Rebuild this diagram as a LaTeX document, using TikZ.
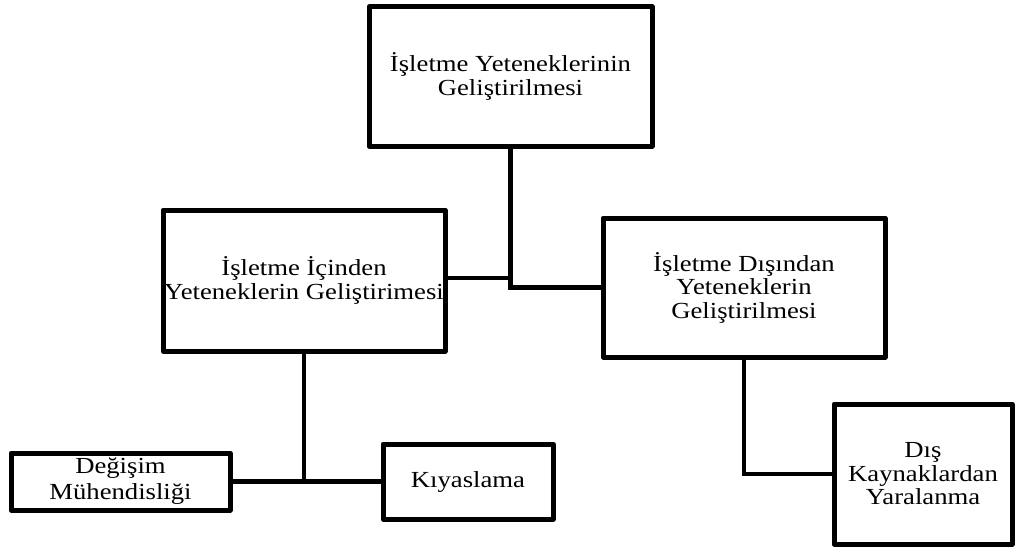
\documentclass[tikz,border=0pt]{standalone}
\usepackage{fontspec}
\setmainfont{Liberation Serif}[FakeStretch=1.16]
\begin{document}
\begin{tikzpicture}[x=1pt,y=-1pt,
  box/.style={draw, line width=5pt, line join=round, align=center, inner sep=0pt,
    font=\fontsize{23}{23.5}\selectfont},
  link/.style={line width=4.5pt}]
\useasboundingbox (0,0) rectangle (1016,551);

% boxes
\node[box, minimum width=283pt, minimum height=139pt] (top) at (510.5,76.5)
  {İşletme Yeteneklerinin\\Geliştirilmesi};
\node[box, minimum width=282pt, minimum height=141pt] (inner) at (304,280.5)
  {İşletme İçinden\\Yeteneklerin Geliştirimesi};
\node[box, minimum width=282pt, minimum height=139pt] (outer) at (744,287.5)
  {İşletme Dışından\\Yeteneklerin\\Geliştirilmesi};
\node[box, minimum width=219pt, minimum height=57pt,
  font=\fontsize{23}{26}\selectfont] (change) at (120.5,481.5)
  {Değişim\\Mühendisliği};
\node[box, minimum width=170pt, minimum height=75pt] (bench) at (468,481.5)
  {Kıyaslama};
\node[box, minimum width=178pt, minimum height=140pt] (source) at (923,474)
  {Dış\\Kaynaklardan\\Yaralanma};

% connectors
\draw[link] (top.south) -- (top.south |- outer.west) -- (outer.west);
\draw[link] ([yshift=2.5pt]inner.east) -- ([yshift=2.5pt]inner.east -| top.south);
\draw[link] (inner.south) -- (inner.south |- change.east);
\draw[link] (change.east) -- (bench.west);
\draw[link] (outer.south) -- (outer.south |- source.west) -- (source.west);
\end{tikzpicture}
\end{document}
